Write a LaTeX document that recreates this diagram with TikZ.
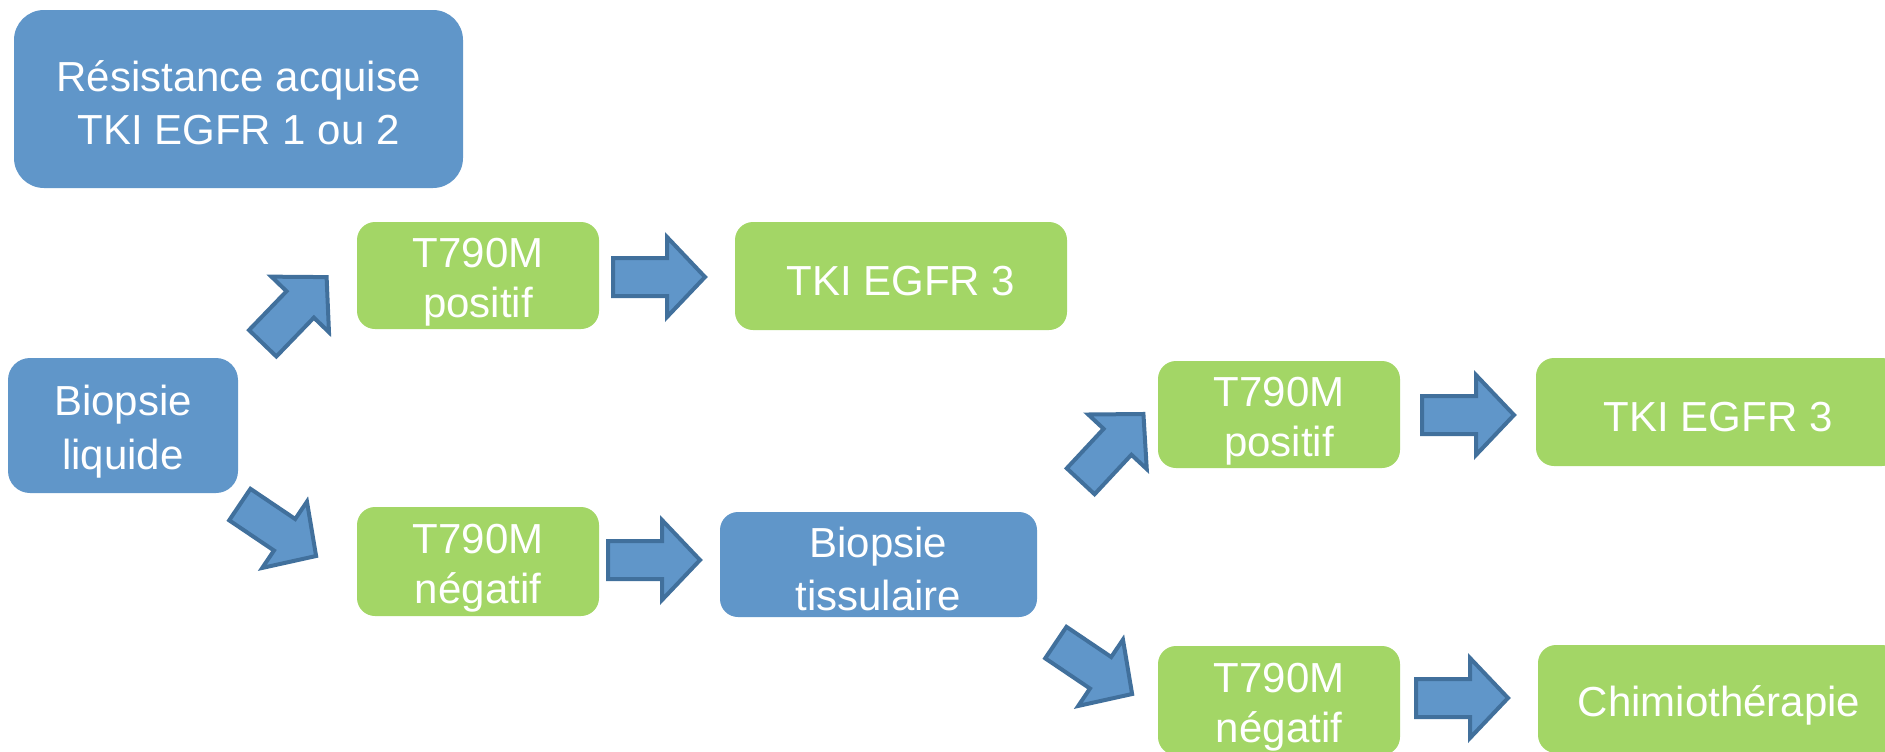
\documentclass[tikz,border=0pt]{standalone}
\usepackage{fontspec}
\setmainfont{Liberation Sans}
\usepackage{xcolor}
\definecolor{ssBlue}{HTML}{6096C9}
\definecolor{ssGreen}{HTML}{A3D666}
\definecolor{ssEdge}{HTML}{41709C}
\usepackage{tikz}
\newcommand{\lnstrut}{\rule[-0.1em]{0pt}{1.117em}}

\begin{document}
\begin{tikzpicture}[
      x=0.5pt, y=-0.5pt,
      every node/.style={font=\fontsize{21}{25}\selectfont, text=white,
                         inner sep=0pt, align=center},
      bluebox/.style={rectangle, rounded corners=9pt, fill=ssBlue},
      greenbox/.style={rectangle, rounded corners=9pt, fill=ssGreen},
      blockarrow/.pic={
        \draw[line width=2pt, draw=ssEdge, fill=ssBlue, line join=miter]
          (1,-19) -- (55,-19) -- (55,-40) -- (93,0) -- (55,40) -- (55,19)
          -- (1,19) -- cycle;},
    ]

    \useasboundingbox (0,0) rectangle (1885,751);
    \clip (0,0) rectangle (1885,751);

    % --- Starting point ---
    \node[bluebox, rounded corners=15pt, minimum width=224.5pt, minimum height=89pt]
      (resist) at (238.5,99) {\lnstrut R\'esistance acquise\\\lnstrut TKI EGFR 1 ou 2};
    \node[bluebox, rounded corners=11pt, minimum width=115pt, minimum height=67.5pt]
      (liquide) at (123,425.5) {\lnstrut Biopsie\\\lnstrut liquide};

    % --- Liquid biopsy results ---
    \node[greenbox, minimum width=121pt, minimum height=53.5pt]
      (pos1) at (478,275.5) {\lnstrut T790M\\\lnstrut positif};
    \node[greenbox, minimum width=121pt, minimum height=54.5pt]
      (neg1) at (478,561.5) {\lnstrut T790M\\\lnstrut n\'egatif};
    \node[greenbox, minimum width=166pt, minimum height=54pt]
      (tki1) at (901,276) {\lnstrut TKI EGFR 3};
    \node[bluebox, minimum width=158.5pt, minimum height=52.5pt]
      (tissu) at (878.5,564.5) {\lnstrut Biopsie\\\lnstrut tissulaire};

    % --- Tissue biopsy results ---
    \node[greenbox, minimum width=121pt, minimum height=53.5pt]
      (pos2) at (1279,414.5) {\lnstrut T790M\\\lnstrut positif};
    \node[greenbox, minimum width=121pt, minimum height=54.5pt]
      (neg2) at (1279,700.5) {\lnstrut T790M\\\lnstrut n\'egatif};
    \node[greenbox, minimum width=182pt, minimum height=54pt]
      (tki2) at (1718,412) {\lnstrut TKI EGFR 3};
    \node[greenbox, minimum width=181pt, minimum height=54pt]
      (chimio) at (1719,699) {\lnstrut Chimioth\'erapie};

    % --- Block arrows ---
    \pic[rotate=46]  at (262,344)  {blockarrow};
    \pic[rotate=-34] at (239,504)  {blockarrow};
    \pic             at (612,277)  {blockarrow};
    \pic             at (607,560)  {blockarrow};
    \pic[rotate=47]  at (1080,482) {blockarrow};
    \pic[rotate=-34] at (1055,642) {blockarrow};
    \pic             at (1421,415) {blockarrow};
    \pic             at (1415,698) {blockarrow};

  \end{tikzpicture}
\end{document}
